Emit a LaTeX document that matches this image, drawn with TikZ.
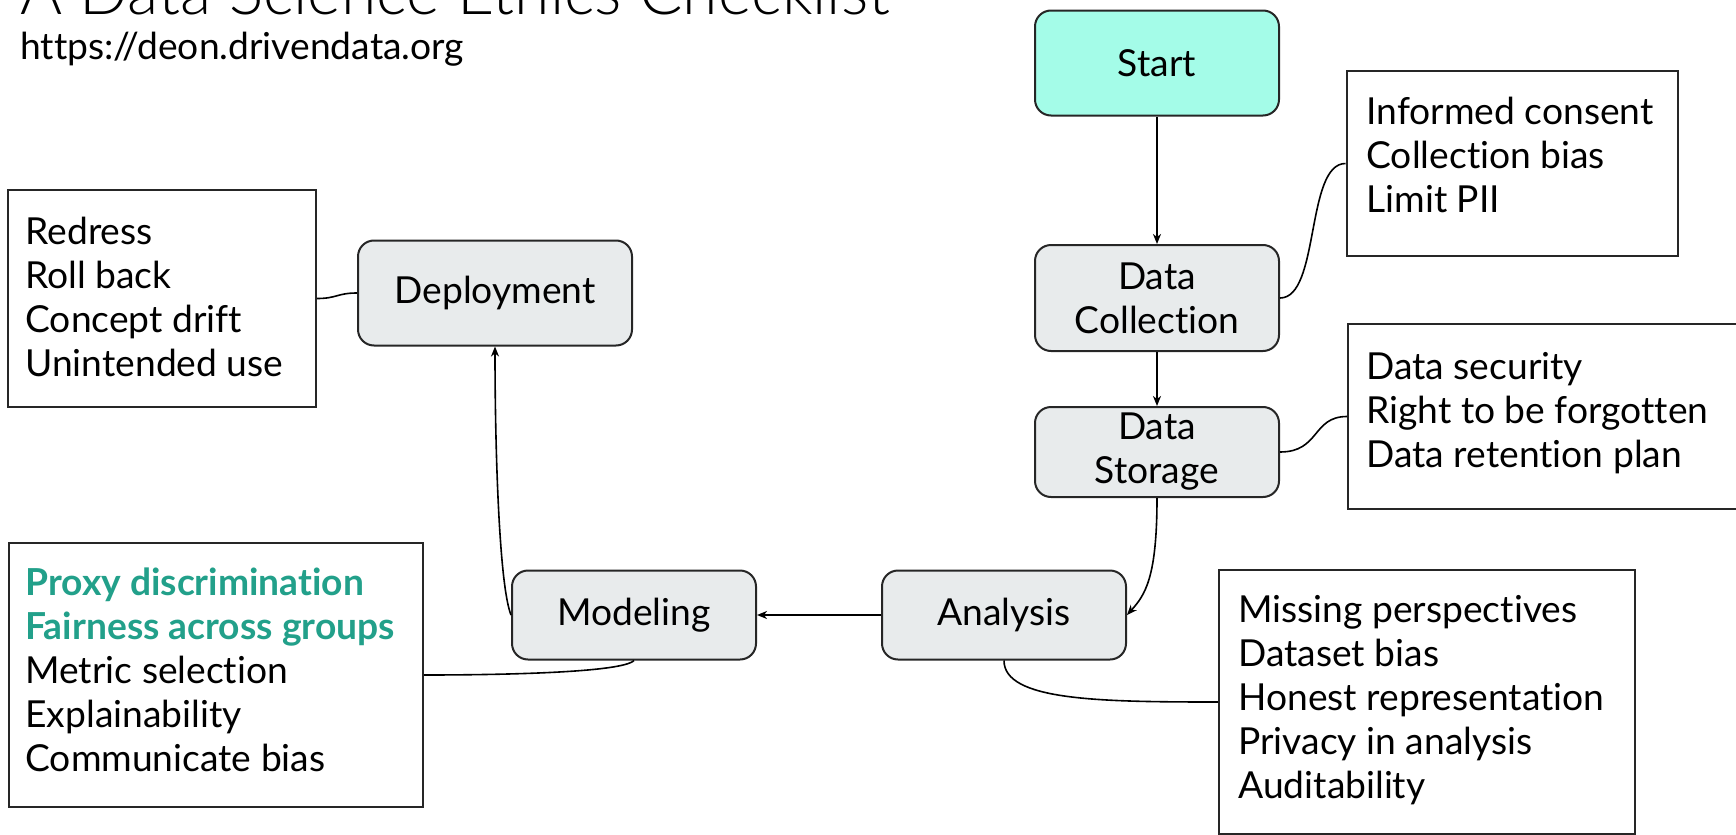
\documentclass[tikz,border=0pt]{standalone}
\usepackage{fontspec}
\setmainfont{Lato}[Ligatures={NoCommon}]
\newfontfamily\titlefont{Lato Light}[Ligatures={NoCommon}]
\usetikzlibrary{arrows.meta}
\definecolor{boxgrey}{HTML}{E8EBEC}
\definecolor{startfill}{HTML}{A4FCE8}
\definecolor{tealtext}{HTML}{22A08A}
\tikzset{
  mainbox/.style={draw=black!85, line width=1pt, rounded corners=8pt, fill=boxgrey, align=center, inner sep=0pt, font=\fontsize{18.6}{22}\selectfont},
  listbox/.style={draw=black!85, line width=1pt, inner sep=0pt},
  item/.style={anchor=base west, inner sep=0pt, font=\fontsize{18.6}{22}\selectfont},
  hitem/.style={item, font=\fontsize{18.6}{22}\selectfont\bfseries, text=tealtext},
  flow/.style={line width=0.8pt, -{Stealth[length=5pt,width=4pt,inset=1.5pt]}},
  link/.style={line width=0.8pt}
}
\begin{document}
\begin{tikzpicture}[x=0.5pt,y=-0.5pt]
\useasboundingbox (0,0) rectangle (1736,835);
% titles
\node[anchor=base west, inner sep=0pt, font=\titlefont\fontsize{32.1}{36}\selectfont] (title) at (20,14) {A Data Science Ethics Checklist};
\node[anchor=base west, inner sep=0pt, font=\fontsize{18.6}{22}\selectfont] (url) at (20,59) {https://deon.drivendata.org};
% main nodes
\node[mainbox, fill=startfill, minimum width=122pt, minimum height=52.5pt] (start) at (1157,63) {Start};
\node[mainbox, minimum width=122pt, minimum height=53pt] (coll) at (1157,298) {Data\\Collection};
\node[mainbox, minimum width=122pt, minimum height=45pt] (stor) at (1157,452) {Data\\Storage};
\node[mainbox, minimum width=122pt, minimum height=44.5pt] (anal) at (1004,615) {Analysis};
\node[mainbox, minimum width=122pt, minimum height=44.5pt] (model) at (634,615) {Modeling};
\node[mainbox, minimum width=137pt, minimum height=52.5pt] (deploy) at (495,293) {Deployment};
% list boxes
\node[listbox, minimum width=154pt, minimum height=108.5pt] (bdep) at (162,298.5) {};
\node[listbox, minimum width=165.5pt, minimum height=92.5pt] (bcol) at (1512,163.5) {};
\node[listbox, minimum width=200pt, minimum height=92.5pt, anchor=north west] (bsto) at (1347,323) {};
\node[listbox, minimum width=208pt, minimum height=132pt] (bana) at (1427,702) {};
\node[listbox, minimum width=207pt, minimum height=132pt] (bmod) at (216,675) {};
% list texts
\foreach \t [count=\i] in {Redress, Roll back, Concept drift, Unintended use}
  \node[item] (tdep\i) at (25,{244+44*(\i-1)}) {\t};
\foreach \t [count=\i] in {Informed consent, Collection bias, Limit PII}
  \node[item] (tcol\i) at (1366,{124+44*(\i-1)}) {\t};
\foreach \t [count=\i] in {Data security, Right to be forgotten, Data retention plan}
  \node[item] (tsto\i) at (1366,{379+44*(\i-1)}) {\t};
\foreach \t [count=\i] in {Missing perspectives, Dataset bias, Honest representation, Privacy in analysis, Auditability}
  \node[item] (tana\i) at (1238,{622+44*(\i-1)}) {\t};
\node[hitem] (tmod1) at (25,595) {Proxy discrimination};
\node[hitem] (tmod2) at (25,639) {Fairness across groups};
\foreach \t [count=\i from 3] in {Metric selection, Explainability, Communicate bias}
  \node[item] (tmod\i) at (25,{595+44*(\i-1)}) {\t};
% flow arrows
\draw[flow] (start.south) -- (coll.north);
\draw[flow] (coll.south) -- (stor.north);
\draw[flow] (stor.south) .. controls +(0,80) and +(18,-20) .. (anal.east);
\draw[flow] (anal.west) -- (model.east);
\draw[flow] (model.west) .. controls +(-12,-30) and +(0,100) .. (deploy.south);
% links to lists
\draw[link] (coll.east) .. controls +(40,0) and +(-40,0) .. (bcol.west);
\draw[link] (stor.east) .. controls +(40,0) and +(-35,0) .. (bsto.west);
\draw[link] (anal.south) .. controls +(0,40) and +(-120,0) .. (bana.west);
\draw[link] (model.south) .. controls +(-12,12) and +(80,0) .. (bmod.east);
\draw[link] (deploy.west) .. controls +(-20,0) and +(20,0) .. (bdep.east);
\end{tikzpicture}
\end{document}
